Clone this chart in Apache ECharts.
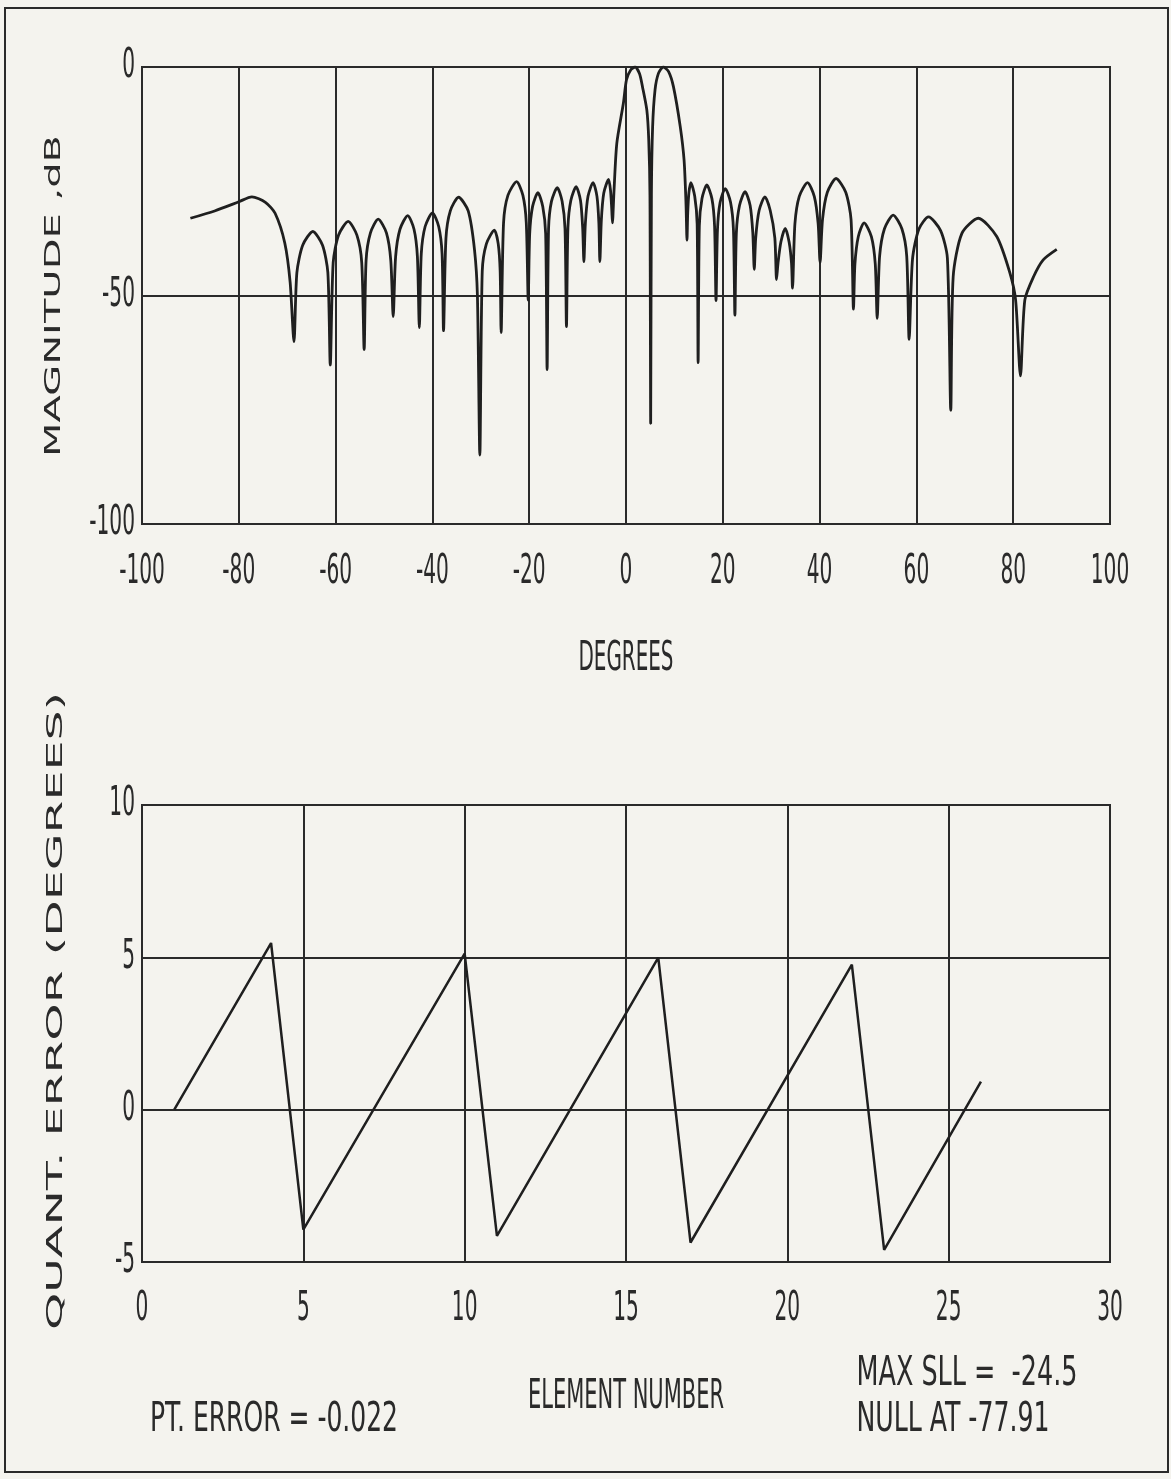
<!DOCTYPE html>
<html>
<head>
<meta charset="utf-8">
<script src="https://cdn.jsdelivr.net/npm/echarts@6/dist/echarts.min.js"></script>
<style>
html,body{margin:0;padding:0;background:#f4f3ee;}
#chart{width:1171px;height:1479px;}
</style>
</head>
<body>
<div id="chart"></div>
<script>
// ---- Top plot: array pattern (degrees vs. magnitude dB) ----
const angles = [
  -90.0,-85.0,-80.0,-77.3,-74.5,-72.5,-70.5,-69.4,-68.6,
  -68.0,-66.8,-64.7,-62.7,-61.6,-61.1,
  -60.5,-59.4,-57.4,-55.6,-54.6,-54.1,
  -53.7,-52.8,-51.2,-49.5,-48.6,-48.1,
  -47.6,-46.7,-45.1,-43.8,-43.1,-42.7,
  -42.3,-41.5,-40.0,-38.7,-38.0,-37.7,
  -37.2,-36.3,-34.6,-32.6,-31.3,-30.7,-30.2,
  -29.7,-28.85,-27.2,-26.4,-26.0,-25.8,
  -25.3,-24.4,-22.6,-21.3,-20.6,-20.2,
  -19.9,-19.3,-18.2,-17.2,-16.6,-16.3,
  -16.0,-15.4,-14.2,-13.2,-12.6,-12.3,
  -12.0,-11.4,-10.3,-9.4,-8.95,-8.7,
  -8.4,-7.85,-6.8,-6.0,-5.6,-5.4,
  -5.1,-4.6,-3.6,-3.2,-2.95,-2.8,
  -2.5,-1.9,-0.55,0.1,1.0,1.9,2.8,3.4,4.3,4.7,4.95,5.1,5.25,5.5,6.0,6.7,7.7,8.8,9.8,11.2,12.0,12.4,12.6,
  12.75,13.0,13.4,14.2,14.7,14.9,
  15.15,15.7,16.7,17.75,18.3,18.6,
  18.9,19.45,20.5,21.6,22.2,22.5,
  22.8,23.45,24.6,25.65,26.2,26.5,
  26.8,27.5,28.7,29.8,30.75,31.1,
  31.4,32.0,32.9,33.7,34.2,34.4,
  34.9,35.8,37.5,38.9,39.7,40.1,
  40.6,41.6,43.4,45.4,46.5,47.0,
  47.3,48.0,49.2,50.7,51.5,51.9,
  52.4,53.4,55.2,57.0,58.0,58.5,
  59.2,60.5,62.5,65.0,66.4,67.1,
  67.6,69.4,72.8,76.6,79.3,80.5,81.5,
  82.4,84.2,86.2,89.0
];
const magnitudes = [
  -33.1,-31.5,-29.5,-28.4,-29.6,-32.0,-38.5,-47.0,-60.1,
  -45.0,-39.0,-36.0,-39.0,-45.0,-65.2,
  -42.8,-36.8,-33.8,-36.8,-42.8,-61.8,
  -42.3,-36.3,-33.3,-36.3,-42.3,-54.6,
  -41.5,-35.5,-32.5,-35.5,-41.5,-57.0,
  -40.9,-34.9,-31.9,-34.9,-40.9,-57.7,
  -37.5,-31.5,-28.5,-31.5,-40.0,-50.0,-84.9,
  -44.7,-38.7,-35.7,-38.7,-44.7,-58.1,
  -34.1,-28.1,-25.1,-28.1,-34.1,-51.0,
  -36.5,-30.5,-27.5,-30.5,-36.5,-66.2,
  -35.4,-29.4,-26.4,-29.4,-35.4,-56.8,
  -35.2,-29.2,-26.2,-29.2,-35.2,-42.6,
  -34.3,-28.3,-25.3,-28.3,-34.3,-42.6,
  -33.6,-27.6,-24.6,-27.0,-31.0,-34.1,
  -27.6,-16.7,-8.0,-2.8,-0.6,0.0,-1.5,-4.3,-9.4,-16.0,-28.0,-78.0,-28.0,-13.1,-5.0,-1.4,0.0,-1.0,-4.3,-13.0,-20.4,-30.0,-37.9,
  -32.0,-27.5,-25.3,-28.3,-34.3,-64.7,
  -34.8,-28.8,-25.8,-28.8,-34.8,-51.1,
  -35.6,-29.6,-26.6,-29.6,-35.6,-54.3,
  -36.3,-30.3,-27.3,-30.3,-36.3,-44.3,
  -37.4,-31.4,-28.4,-31.4,-37.4,-46.5,
  -43.0,-38.3,-35.3,-38.3,-43.0,-48.4,
  -34.3,-28.3,-25.3,-28.3,-34.3,-42.8,
  -33.4,-27.4,-24.4,-27.4,-33.4,-53.0,
  -43.1,-37.1,-34.1,-37.1,-43.1,-55.0,
  -41.4,-35.4,-32.4,-35.4,-41.4,-59.6,
  -42.0,-35.5,-32.8,-35.8,-41.8,-75.1,
  -45.9,-36.4,-33.1,-37.1,-45.0,-51.0,-67.6,
  -51.0,-45.9,-42.2,-39.9
];
const angleTicks = [-100,-80,-60,-40,-20,0,20,40,60,80,100];
const magnitudeTicks = [-100,-50,0];

// ---- Bottom plot: phase quantization error per element (vertices of the sawtooth) ----
const elementNumbers = [1,4,5,10,11,16,17,22,23,26];
const quantError = [0.0,5.47,-3.94,5.12,-4.14,4.99,-4.36,4.76,-4.60,0.92];
const elementTicks = [0,5,10,15,20,25,30];
const errorTicks = [-5,0,5,10];

// ---- Texts ----
const topYTitle = 'MAGNITUDE ,dB';
const topXTitle = 'DEGREES';
const bottomYTitle = 'QUANT. ERROR (DEGREES)';
const bottomXTitle = 'ELEMENT NUMBER';
const ptErrorText = 'PT. ERROR = -0.022';
const maxSllText = 'MAX SLL =  -24.5';
const nullAtText = 'NULL AT -77.91';

const INK = '#2a2a2a';
const NARROW = '"Liberation Sans Narrow","DejaVu Sans Condensed",sans-serif';
const WIDE = '"DejaVu Sans",sans-serif';

const ctx = document.createElement('canvas').getContext('2d');
function measure(text, font){ ctx.font = font; return ctx.measureText(text).width; }
function textEl(text, x, y, scaleX, size, family, align, vertical){
  return {
    type: 'text', x: x, y: y, silent: true,
    rotation: vertical ? Math.PI / 2 : 0,
    scaleX: scaleX, scaleY: 1,
    style: { text: text, font: size + 'px ' + family, fill: INK,
             textAlign: align, textVerticalAlign: 'middle',
             align: align, verticalAlign: 'middle' }
  };
}
function label(text, cx, cy, targetWidth, size, family, vertical){
  const w = measure(text, size + 'px ' + family);
  return textEl(text, cx, cy, targetWidth / w, size, family, 'center', vertical);
}

function valueAxis(gridIndex, ticks){
  return {
    type: 'value', gridIndex: gridIndex,
    min: ticks[0], max: ticks[ticks.length - 1], interval: ticks[1] - ticks[0],
    axisLine: { show: false }, axisTick: { show: false },
    splitLine: { show: true, lineStyle: { color: INK, width: 2 } },
    axisLabel: { show: false }
  };
}

const chart = echarts.init(document.getElementById('chart'), null, { renderer: 'canvas' });
chart.setOption({
  animation: false,
  backgroundColor: '#f4f3ee',
  grid: [
    { left: 142, top: 67, width: 968, height: 457, show: true, borderColor: INK, borderWidth: 2, backgroundColor: 'transparent' },
    { left: 142, top: 805, width: 968, height: 457, show: true, borderColor: INK, borderWidth: 2, backgroundColor: 'transparent' }
  ],
  xAxis: [ valueAxis(0, angleTicks), valueAxis(1, elementTicks) ],
  yAxis: [ valueAxis(0, magnitudeTicks), valueAxis(1, errorTicks) ],
  series: [
    {
      type: 'line', xAxisIndex: 0, yAxisIndex: 0,
      data: angles.map((a, i) => [a, magnitudes[i]]),
      symbol: 'none', smooth: 0.25,
      lineStyle: { color: '#1f1f1f', width: 2.8 }
    },
    {
      type: 'line', xAxisIndex: 1, yAxisIndex: 1,
      data: elementNumbers.map((n, i) => [n, quantError[i]]),
      symbol: 'none',
      lineStyle: { color: '#1f1f1f', width: 2.5 }
    }
  ]
});

// Tick labels: tall condensed plotter digits, placed through the axes' own scales.
const TICK_SIZE = 40, TICK_SCALE = 0.56;
const tickFamily = '"DejaVu Sans Condensed",sans-serif';
const graphics = [
  { type: 'rect', silent: true, shape: { x: 5, y: 8, width: 1163, height: 1464 },
    style: { fill: 'none', stroke: INK, lineWidth: 2 } }
];
function addTicks(gridIndex, xTicks, yTicks, xLabelOffset){
  const g = { gridIndex: gridIndex };
  xTicks.forEach(v => {
    const p = chart.convertToPixel(g, [v, yTicks[0]]);
    graphics.push(textEl(String(v), p[0], p[1] + xLabelOffset, TICK_SCALE, TICK_SIZE, tickFamily, 'center', false));
  });
  yTicks.forEach(v => {
    const p = chart.convertToPixel(g, [xTicks[0], v]);
    graphics.push(textEl(String(v), p[0] - 7, p[1], TICK_SCALE, TICK_SIZE, tickFamily, 'right', false));
  });
}
addTicks(0, angleTicks, magnitudeTicks, 49);
addTicks(1, elementTicks, errorTicks, 48);

graphics.push(
  label(topYTitle, 55, 296, 322, 21, WIDE, true),
  label(bottomYTitle, 56, 1011, 638, 22, WIDE, true),
  label(topXTitle, 626, 660, 95, 40, NARROW, false),
  label(bottomXTitle, 626, 1398, 196, 40, NARROW, false),
  label(ptErrorText, 274, 1421, 248, 40, NARROW, false),
  label(maxSllText, 967, 1375, 221, 40, NARROW, false),
  label(nullAtText, 953, 1421, 193, 40, NARROW, false)
);
chart.setOption({ graphic: graphics });
</script>
</body>
</html>
